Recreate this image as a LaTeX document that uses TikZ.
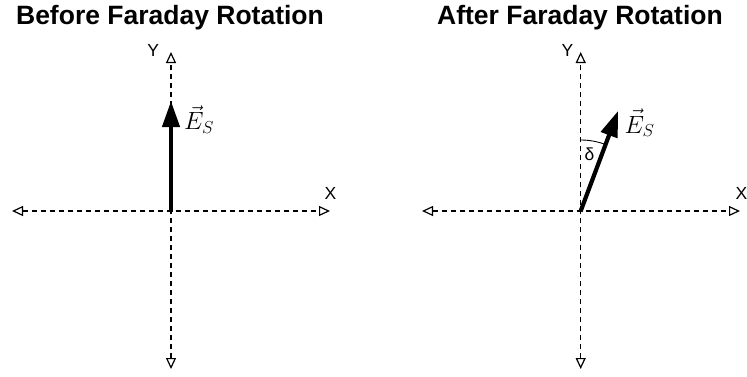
\documentclass[tikz,border=0pt]{standalone}
\usepackage{fontspec}
\setmainfont{Liberation Sans}
\usetikzlibrary{arrows.meta}
\tikzset{
  axis/.style={line width=1.2pt, dash pattern=on 5pt off 4pt, {Triangle[open,length=11pt,width=10pt]}-{Triangle[open,length=11pt,width=10pt]}},
  vec/.style={line width=4.2pt, -{Triangle[length=26pt,width=17pt]}, shorten <=-0.5pt},
  title/.style={font=\fontsize{26.5}{30}\selectfont\bfseries, anchor=base, inner sep=0pt},
  lbl/.style={font=\fontsize{17.5}{20}\selectfont, anchor=base, inner sep=0pt},
  elbl/.style={font=\fontsize{25}{30}\selectfont, anchor=base west, inner sep=0pt}
}
\begin{document}
\begin{tikzpicture}[x=1pt,y=1pt]
\useasboundingbox (0,0) rectangle (747,376);
% left panel
\coordinate (O1) at (171,165);
\coordinate (Y1t) at (171,324);
\coordinate (Y1b) at (171,7);
\coordinate (X1l) at (12,165);
\coordinate (X1r) at (330,165);
\coordinate (T1) at (171,275);
\draw[axis] (Y1b) -- (Y1t);
\draw[axis] (X1l) -- (X1r);
\draw[vec] (O1) -- (T1);
\node[title] (t1) at (170,351.5) {Before Faraday Rotation};
\node[lbl] (y1) at (153.3,320) {Y};
\node[lbl] (x1) at (330.5,177) {X};
\node[elbl] (e1) at (184,246.5) {$\vec{E}_S$};
% right panel
\coordinate (O2) at (580.7,165);
\coordinate (Y2t) at (580.7,324);
\coordinate (Y2b) at (580.7,7);
\coordinate (X2l) at (422,165);
\coordinate (X2r) at (740,165);
\coordinate (T2) at ([shift={(69.5:107)}]O2);
\draw[axis] (Y2b) -- (Y2t);
\draw[axis] (X2l) -- (X2r);
\draw[vec] (O2) -- (T2);
\draw[line width=0.9pt] (O2) ++(0pt,71pt) arc[start angle=90, end angle=69.5, radius=71pt];
\node[title] (t2) at (580,351.5) {After Faraday Rotation};
\node[lbl] (y2) at (567.5,319.5) {Y};
\node[lbl] (x2) at (741.5,176.5) {X};
\node[lbl] (d) at (589.5,216) {δ};
\node[elbl] (e2) at (624.5,243) {$\vec{E}_S$};
\end{tikzpicture}
\end{document}
